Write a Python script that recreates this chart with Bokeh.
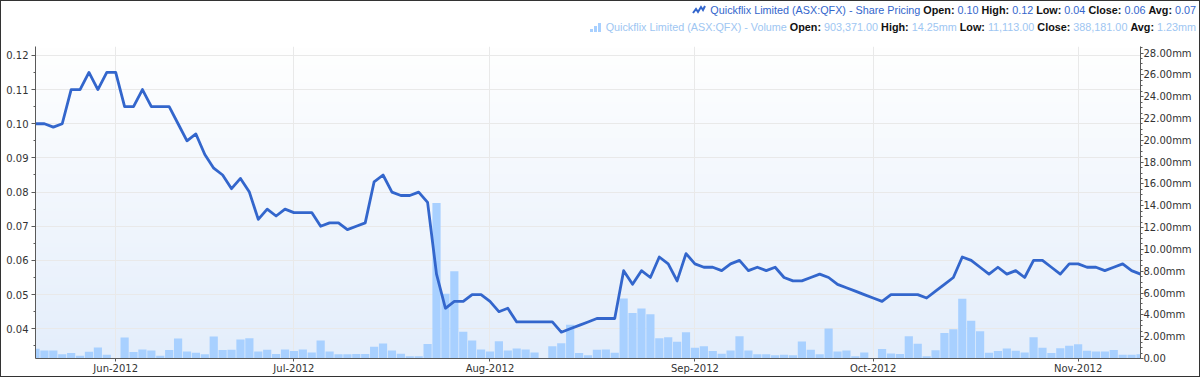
import numpy as np
import pandas as pd
from bokeh.plotting import figure
from bokeh.models import Range1d, LinearAxis, FixedTicker, NumeralTickFormatter, Div
from bokeh.layouts import column
from bokeh.embed import file_html
from bokeh.resources import INLINE

# ---------------- data ----------------
price = [0.100, 0.100, 0.099, 0.100, 0.110, 0.110, 0.115, 0.110, 0.115, 0.115,
         0.105, 0.105, 0.110, 0.105, 0.105, 0.105, 0.100, 0.095, 0.097, 0.091,
         0.087, 0.085, 0.081, 0.084, 0.080, 0.072, 0.075, 0.073, 0.075, 0.074,
         0.074, 0.074, 0.070, 0.071, 0.071, 0.069, 0.070, 0.071, 0.083, 0.085,
         0.080, 0.079, 0.079, 0.080, 0.077, 0.056, 0.046, 0.048, 0.048, 0.050,
         0.050, 0.048, 0.045, 0.046, 0.042, 0.042, 0.042, 0.042, 0.042, 0.039,
         0.040, 0.041, 0.042, 0.043, 0.043, 0.043, 0.057, 0.053, 0.057, 0.055,
         0.061, 0.059, 0.054, 0.062, 0.059, 0.058, 0.058, 0.057, 0.059, 0.060,
         0.057, 0.058, 0.057, 0.058, 0.055, 0.054, 0.054, 0.055, 0.056, 0.055,
         0.053, 0.052, 0.051, 0.050, 0.049, 0.048, 0.050, 0.050, 0.050, 0.050,
         0.049, 0.051, 0.053, 0.055, 0.061, 0.060, 0.058, 0.056, 0.058, 0.056,
         0.057, 0.055, 0.060, 0.060, 0.058, 0.056, 0.059, 0.059, 0.058, 0.058,
         0.057, 0.058, 0.059, 0.057, 0.056]

volume_mm = [0.90, 0.74, 0.74, 0.38, 0.50, 0.26, 0.62, 1.01, 0.35, 0.02,
             1.92, 0.59, 0.83, 0.74, 0.26, 0.77, 1.83, 0.65, 0.53, 0.38,
             2.01, 0.77, 0.80, 1.74, 1.86, 0.65, 0.80, 0.41, 0.83, 0.68,
             0.83, 0.56, 1.65, 0.65, 0.38, 0.38, 0.41, 0.41, 1.07, 1.37,
             0.74, 0.44, 0.20, 0.20, 1.34, 14.25, 5.94, 7.99, 2.46, 1.65,
             0.83, 0.65, 1.59, 0.74, 0.92, 0.83, 0.56, 0.05, 1.13, 1.40,
             3.10, 0.50, 0.29, 0.80, 0.83, 0.53, 5.51, 4.16, 4.58, 4.06,
             1.86, 1.95, 1.53, 2.40, 0.98, 1.13, 0.68, 0.44, 0.74, 2.04,
             0.74, 0.38, 0.38, 0.29, 0.35, 0.29, 1.56, 0.80, 0.38, 2.76,
             0.65, 0.74, 0.20, 0.56, 0.011, 0.86, 0.45, 0.42, 2.05, 1.35,
             0.20, 0.75, 2.33, 2.67, 5.48, 3.46, 2.50, 0.53, 0.68, 0.92,
             0.71, 0.56, 1.95, 0.98, 0.50, 0.95, 1.16, 1.31, 0.71, 0.65,
             0.65, 0.77, 0.35, 0.35, 0.39]

price_ticks = [0.04, 0.05, 0.06, 0.07, 0.08, 0.09, 0.10, 0.11, 0.12]
volume_ticks = [0, 2, 4, 6, 8, 10, 12, 14, 16, 18, 20, 22, 24, 26, 28]
volume_tick_labels = ["0.00", "2.00mm", "4.00mm", "6.00mm", "8.00mm", "10.00mm", "12.00mm",
                      "14.00mm", "16.00mm", "18.00mm", "20.00mm", "22.00mm", "24.00mm",
                      "26.00mm", "28.00mm"]

price_name = "Quickflix Limited (ASX:QFX) - Share Pricing"
volume_name = "Quickflix Limited (ASX:QFX) - Volume"
price_stats = [("Open:", "0.10"), ("High:", "0.12"), ("Low:", "0.04"), ("Close:", "0.06"), ("Avg:", "0.07")]
volume_stats = [("Open:", "903,371.00"), ("High:", "14.25mm"), ("Low:", "11,113.00"),
                ("Close:", "388,181.00"), ("Avg:", "1.23mm")]

# trading days (ASX), Queen's Birthday holiday removed
dates = pd.bdate_range("2012-05-21", "2012-11-12")
dates = dates[dates != pd.Timestamp("2012-06-11")]
idx = list(range(len(dates)))
month_idx = [i for i in range(1, len(dates)) if dates[i].month != dates[i - 1].month]
month_labels = {i: dates[i].strftime("%b-%Y") for i in month_idx}

# ---------------- styles ----------------
LINE_C = "#3366cc"
BAR_C = "#a8d0ff"
VOL_TXT = "#9ec6f2"
AX_C = "#5a5a5a"
TXT_C = "#333333"
FONT = "DejaVu Sans"

y0, y1 = 0.0313, 0.1226
v0, v1 = 0.0, 28.6
x0, x1 = idx[0], idx[-1]

p = figure(width=1198, height=341, output_backend="svg", toolbar_location=None,
           x_range=Range1d(x0, x1), y_range=Range1d(y0, y1),
           min_border_left=34, min_border_right=59, min_border_top=11, min_border_bottom=15,
           background_fill_color="white", border_fill_color="white", margin=0)
p.outline_line_color = None
p.extra_y_ranges = {"vol": Range1d(v0, v1)}

# vertical gradient background of plot area
H = 200
grad = np.zeros((H, 1), dtype=np.uint32)
view = grad.view(dtype=np.uint8).reshape((H, 1, 4))
bot = np.array([228, 238, 251])
top = np.array([255, 255, 255])
for r in range(H):
    t = r / (H - 1)
    c = bot * (1 - t) + top * t
    view[r, 0, 0:3] = c.astype(np.uint8)
    view[r, 0, 3] = 255
p.image_rgba(image=[grad], x=x0, y=y0, dw=x1 - x0, dh=y1 - y0, level="image")

# volume bars
p.vbar(x=idx, top=volume_mm, width=0.92, bottom=0, y_range_name="vol",
       fill_color=BAR_C, line_color=None)

# price line
p.line(idx, price, line_width=2.8, line_color=LINE_C, line_join="round")

# left axis
ya = p.yaxis[0]
ya.ticker = FixedTicker(ticks=price_ticks,
                        minor_ticks=[round(0.035 + 0.005 * k, 3) for k in range(19)])
ya.formatter = NumeralTickFormatter(format="0.00")

# right axis
ra = LinearAxis(y_range_name="vol",
                ticker=FixedTicker(ticks=volume_ticks, minor_ticks=[k * 0.5 for k in range(58)]),
                major_label_overrides=dict(zip(volume_ticks, volume_tick_labels)))
p.add_layout(ra, "right")

# bottom axis
xa = p.xaxis[0]
xa.ticker = FixedTicker(ticks=month_idx)
xa.major_label_overrides = month_labels

for ax in [ya, ra, xa]:
    ax.axis_line_color = AX_C
    ax.major_tick_line_color = AX_C
    ax.minor_tick_line_color = AX_C
    ax.major_tick_out = 4
    ax.major_tick_in = 0
    ax.minor_tick_out = 2
    ax.minor_tick_in = 0
    ax.major_label_text_font = FONT
    ax.major_label_text_font_size = "10px"
    ax.major_label_text_color = TXT_C
    ax.major_label_standoff = 3
xa.minor_tick_line_color = None
xa.major_tick_out = 3
xa.major_label_standoff = 1
ra.major_tick_out = 3
ra.major_label_standoff = 0

p.ygrid.ticker = FixedTicker(ticks=price_ticks)
p.ygrid.grid_line_color = "#e9e9e9"
p.xgrid.ticker = FixedTicker(ticks=month_idx)
p.xgrid.grid_line_color = "#e9e9e9"

# ---------------- legend header ----------------
icon_line = ('<svg width="14" height="10" style="vertical-align:-1px;margin-right:4px">'
             '<polyline points="1,8 4,4 6,7 9,2 11,5 13,1" fill="none" stroke="%s" stroke-width="2"/></svg>' % LINE_C)
icon_bar = ('<svg width="12" height="10" style="vertical-align:-1px;margin-right:4px">'
            '<rect x="0" y="7" width="3" height="3" fill="%s"/><rect x="4" y="4" width="3" height="6" fill="%s"/>'
            '<rect x="8" y="1" width="3" height="9" fill="%s"/></svg>' % (BAR_C, BAR_C, BAR_C))


def row(icon, name, stats, color):
    parts = [icon, '<span style="color:%s">%s</span>' % (color, name)]
    for k, v in stats:
        parts.append(' <b style="color:#111">%s</b> <span style="color:%s">%s</span>' % (k, color, v))
    return '<div style="height:17px;line-height:17px">' + "".join(parts) + "</div>"


html = ('<div style="width:1195px;text-align:right;font-family:\'Liberation Sans\';font-size:10.8px;'
        'white-space:nowrap;padding-top:1px">'
        + row(icon_line, price_name, price_stats, LINE_C)
        + row(icon_bar, volume_name, volume_stats, VOL_TXT)
        + '</div>')
header = Div(text=html, width=1198, height=34, margin=0,
             styles={"overflow": "hidden", "height": "34px"})

layout = column(header, p, spacing=0, margin=0,
                styles={"border": "1px solid #333", "background": "white"})

open("out.html", "w").write(file_html(layout, INLINE))
